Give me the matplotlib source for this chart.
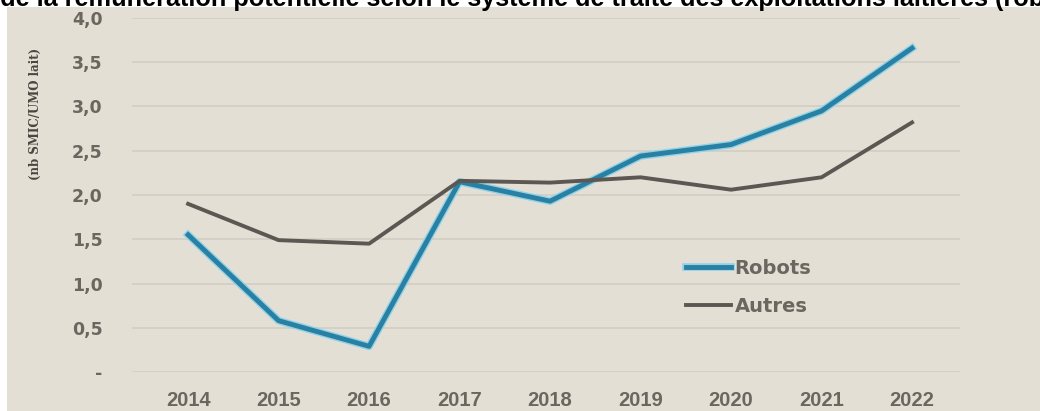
import matplotlib.pyplot as plt
import matplotlib.patheffects as pe
from matplotlib.patches import Rectangle

# data
years = [2014, 2015, 2016, 2017, 2018, 2019, 2020, 2021, 2022]
robots = [1.55, 0.58, 0.29, 2.15, 1.93, 2.44, 2.57, 2.95, 3.66]
autres = [1.90, 1.49, 1.45, 2.16, 2.14, 2.20, 2.06, 2.20, 2.82]
y_ticks = [0, 0.5, 1.0, 1.5, 2.0, 2.5, 3.0, 3.5, 4.0]
y_labels = ['-', '0,5', '1,0', '1,5', '2,0', '2,5', '3,0', '3,5', '4,0']
title = ("Évolution de la rémunération potentielle selon le système de traite "
         "des exploitations laitières (robots vs autres)")

bg = '#e4dfd5'
tick_col = '#6b6660'

fig = plt.figure(figsize=(10.4, 4.11), dpi=100)
fig.patch.set_facecolor('white')
# beige panel below the white strip
fig.patches.append(Rectangle((7 / 1040, 0), 1, 1 - 7 / 411,
                             transform=fig.transFigure, facecolor=bg,
                             edgecolor='none', zorder=-5))

ax = fig.add_axes([132 / 1040, 1 - 372 / 411, (960 - 132) / 1040, (372 - 18) / 411])
ax.set_facecolor('none')
ax.set_xlim(2013.38, 2022.53)
ax.set_ylim(0, 4.0)
ax.set_yticks(y_ticks)
ax.set_yticklabels(y_labels)
ax.set_xticks(years)
ax.set_xticklabels([str(y) for y in years])
ax.grid(axis='y', color='#d3cec4', linewidth=1.2)
ax.set_axisbelow(True)
for s in ax.spines.values():
    s.set_visible(False)
ax.tick_params(length=0, colors=tick_col)
ax.tick_params(axis='x', pad=14)
ax.tick_params(axis='y', pad=21)
for lab in ax.get_xticklabels():
    lab.set_fontfamily('Liberation Sans')
    lab.set_fontweight('bold')
    lab.set_fontsize(14.5)
for lab in ax.get_yticklabels():
    lab.set_fontfamily('DejaVu Sans')
    lab.set_fontweight('bold')
    lab.set_fontsize(12.5)

ax.plot(years, robots, color='#2a80a3', linewidth=3.5, label='Robots',
        path_effects=[pe.Stroke(linewidth=5.5, foreground='#8fd3ea'), pe.Normal()],
        solid_joinstyle='round')
ax.plot(years, autres, color='#5c5752', linewidth=2.8, label='Autres',
        solid_joinstyle='round')

leg = ax.legend(loc='upper left', bbox_to_anchor=(0.648, 0.37), frameon=False,
                handlelength=2.3, handletextpad=0.2, labelspacing=1.0,
                prop={'family': 'DejaVu Sans', 'weight': 'bold', 'size': 14})
for t in leg.get_texts():
    t.set_color(tick_col)

fig.text(35 / 1040, 1 - 114 / 411, '(nb SMIC/UMO lait)', rotation=90,
         ha='center', va='center', fontsize=8.5, fontweight='bold',
         family='DejaVu Serif', color='#4a4540')

fig.text(-122 / 1040, 1 - 6 / 411, title, ha='left', va='baseline',
         fontsize=18.2, fontweight='bold', family='Liberation Sans', color='black')

fig.savefig('out.png', dpi=100, facecolor=fig.get_facecolor())
